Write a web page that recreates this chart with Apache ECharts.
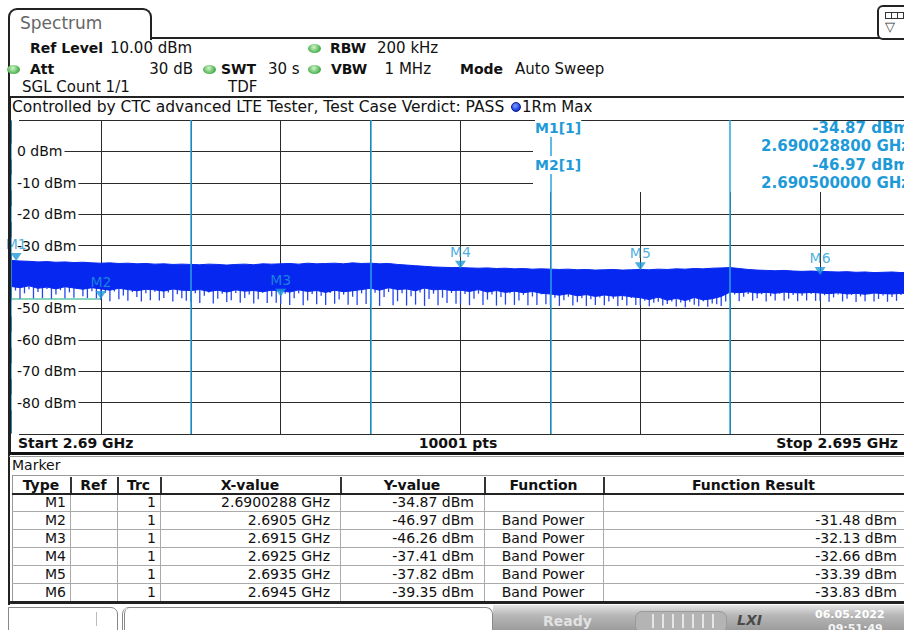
<!DOCTYPE html>
<html>
<head>
<meta charset="utf-8">
<script src="https://cdn.jsdelivr.net/npm/echarts@6/dist/echarts.min.js"></script>
<style>
  html, body { margin: 0; padding: 0; background: #fff; }
  #page { position: relative; width: 904px; height: 630px; overflow: hidden; font-family: 'DejaVu Sans', Verdana, sans-serif; color: #111; }
  .t { position: absolute; white-space: nowrap; line-height: 20px; }
  .ln { position: absolute; }
  .dot { position: absolute; width: 13px; height: 9px; border-radius: 50%; background: radial-gradient(circle at 45% 35%, #d2f5c8, #45ad4a 70%); }
</style>
</head>
<body>
<div id="page">
  <div id="chart" style="position:absolute;left:0;top:97px;width:920px;height:358px;"></div>
</div>
<script>
// sweep settings (MHz)
const sweepStart = 2690;
const sweepStop = 2695;

// trace 1 (max hold): top edge of the noise band, dBm
const traceTop = [
  -34.7, -34.9, -35.0, -35.2, -35.1, -35.3, -35.2, -35.4, -35.3, -35.5,
  -35.6, -35.5, -35.7, -35.6, -35.8, -35.7, -35.9, -35.8, -36.0, -35.9,
  -36.0, -36.1, -35.9, -36.0, -36.2, -36.0, -35.9, -36.1, -35.8, -35.9,
  -35.8, -35.7, -35.9, -35.6, -35.8, -35.7, -35.6, -35.8, -35.5, -35.7,
  -35.6, -35.8, -35.7, -36.0, -36.2, -36.4, -36.6, -36.8, -36.9, -37.0,
  -37.0, -37.1, -37.2, -37.1, -37.3, -37.2, -37.4, -37.3, -37.5, -37.4,
  -37.5, -37.6, -37.5, -37.7, -37.6, -37.8, -37.7, -37.6, -37.8, -37.7,
  -37.6, -37.7, -37.5, -37.6, -37.4, -37.5, -37.3, -37.4, -37.2, -37.1,
  -37.0, -37.3, -37.6, -37.8, -37.9, -38.0, -37.9, -38.1, -38.2, -38.1,
  -38.2, -38.3, -38.4, -38.3, -38.5, -38.4, -38.6, -38.5, -38.4, -38.6,
  -38.5
];

// trace 1: lower edge of the solid part of the band, dBm
const traceBottom = [
  -43.0, -43.4, -42.8, -43.6, -43.2, -43.8, -43.1, -43.5, -43.9, -43.4,
  -43.8, -44.2, -43.6, -44.0, -44.4, -43.9, -44.1, -44.5, -43.8, -44.2,
  -44.3, -44.0, -44.6, -44.2, -44.8, -44.1, -44.5, -44.3, -44.7, -44.2,
  -44.4, -44.8, -44.1, -44.6, -44.3, -44.9, -44.2, -44.7, -44.4, -44.0,
  -43.6, -44.2, -43.4, -44.0, -43.8, -44.4, -43.5, -44.1, -43.9, -44.3,
  -44.2, -44.6, -44.0, -44.8, -44.3, -44.9, -44.5, -45.0, -44.6, -45.2,
  -45.4, -45.8, -45.3, -46.0, -45.6, -46.2, -45.7, -46.1, -45.9, -46.3,
  -46.6, -47.2, -46.4, -47.4, -46.8, -47.5, -46.5, -47.3, -46.9, -46.2,
  -44.8, -45.0, -44.7, -45.1, -44.9, -45.2, -44.8, -45.0, -45.1, -44.9,
  -45.1, -45.3, -45.0, -45.4, -45.2, -45.5, -45.1, -45.3, -45.4, -45.2,
  -45.3
];

// trace 1: tips of the downward noise spikes, dBm
const traceSpikes = [
  -46.6, -44.3, -46.9, -45.2, -43.9, -46.8, -44.8, -46.7, -43.8, -46.9, -45.6, -44.2, -46.8, -44.9, -46.6, -43.7, -46.1, -46.7, -44.5, -46.8,
  -47.3, -45.0, -47.7, -44.6, -47.1, -45.9, -47.6, -44.8, -46.4, -47.8, -45.2, -47.4, -44.7, -47.5, -46.7, -44.9, -47.8, -45.5, -46.8, -47.6,
  -47.9, -45.2, -48.3, -46.0, -44.9, -48.4, -46.9, -45.3, -48.0, -47.4, -45.1, -48.2, -46.7, -45.6, -48.4, -47.1, -45.0, -48.3, -46.2, -48.2,
  -48.6, -45.3, -48.9, -46.8, -45.2, -49.0, -47.5, -45.4, -48.7, -46.0, -48.9, -45.1, -48.5, -47.2, -45.6, -48.8, -46.3, -48.9, -45.2, -48.6,
  -48.9, -45.0, -49.2, -46.4, -44.8, -49.0, -47.7, -45.2, -49.1, -46.1, -48.8, -44.9, -49.2, -47.0, -45.3, -49.0, -46.6, -48.3, -45.1, -48.5,
  -48.7, -45.4, -49.0, -46.9, -45.3, -48.9, -47.2, -45.6, -49.1, -46.4, -48.8, -45.2, -48.9, -47.5, -45.7, -49.0, -46.2, -48.9, -45.5, -48.7,
  -48.9, -46.6, -49.2, -47.4, -46.3, -49.1, -48.0, -46.8, -49.2, -47.1, -48.9, -46.5, -49.0, -47.8, -46.9, -49.2, -47.3, -49.1, -46.7, -48.9,
  -49.0, -47.6, -49.3, -48.2, -47.9, -49.1, -48.6, -47.8, -49.4, -48.1, -49.6, -47.9, -48.8, -49.3, -47.7, -49.5, -48.4, -48.7, -49.2, -47.8,
  -47.4, -45.6, -47.7, -46.3, -45.4, -47.6, -46.8, -45.5, -47.8, -46.1, -47.5, -45.3, -47.6, -46.9, -45.7, -47.7, -46.0, -47.5, -45.4, -47.6,
  -47.6, -45.8, -47.9, -46.5, -45.6, -47.8, -46.9, -45.7, -48.0, -46.2, -47.7, -45.5, -47.8, -47.0, -45.9, -47.9, -46.4, -47.6, -45.7, -47.8,
  -47.4
];

// markers
const markerNames = ['M1', 'M2', 'M3', 'M4', 'M5', 'M6'];
const markerTrace = [1, 1, 1, 1, 1, 1];
const markerFreqMHz = [2690.0288, 2690.5, 2691.5, 2692.5, 2693.5, 2694.5];
const markerDbm = [-34.87, -46.97, -46.26, -37.41, -37.82, -39.35];
const markerFunc = ['', 'Band Power', 'Band Power', 'Band Power', 'Band Power', 'Band Power'];
const bandPowerDbm = [null, -31.48, -32.13, -32.66, -33.39, -33.83];

// blue display lines (MHz)
const displayLinesMHz = [2690, 2691, 2692, 2693, 2694];

const FONT = "'DejaVu Sans', Verdana, sans-serif";
const MK_BLUE = '#1e9ad8';
const TRACE_BLUE = '#0527f0';

const page = document.getElementById('page');

function addText(str, x, y, o = {}) {
  const d = document.createElement('div');
  d.className = 't';
  d.textContent = str;
  d.style.fontSize = (o.size || 14) + 'px';
  if (o.bold) d.style.fontWeight = 'bold';
  if (o.italic) d.style.fontStyle = 'italic';
  if (o.color) d.style.color = o.color;
  d.style.top = (y - 10) + 'px';
  const align = o.align || 'left';
  if (align === 'left') d.style.left = x + 'px';
  else if (align === 'right') d.style.right = (904 - x) + 'px';
  else { d.style.left = x + 'px'; d.style.transform = 'translateX(-50%)'; }
  page.appendChild(d);
  return d;
}

function addBox(x, y, w, h, css) {
  const d = document.createElement('div');
  d.className = 'ln';
  d.style.left = x + 'px';
  d.style.top = y + 'px';
  d.style.width = w + 'px';
  d.style.height = h + 'px';
  Object.assign(d.style, css || {});
  page.appendChild(d);
  return d;
}

function addDot(cx, cy) {
  const d = document.createElement('div');
  d.className = 'dot';
  d.style.left = (cx - 6) + 'px';
  d.style.top = (cy - 4) + 'px';
  page.appendChild(d);
}

// ---- tab + frame ----
addBox(8, 8, 140, 30, { border: '2px solid #222', borderBottom: 'none', borderRadius: '9px 9px 0 0', background: '#fff' });
addText('Spectrum', 20, 23, { size: 17, color: '#666' });
addBox(150, 37, 730, 2, { background: '#222' });
addBox(877, 5, 30, 31, { border: '2px solid #222', borderRadius: '6px', background: '#fff' });
addBox(885, 12, 5, 5, { border: '1px solid #333' });
addBox(891, 12, 5, 5, { border: '1px solid #333' });
addBox(897, 12, 5, 5, { border: '1px solid #333' });
addText('\u25BD', 885, 27, { size: 13, color: '#333' });
addBox(8, 38, 2, 567, { background: '#222' });

// ---- settings ----
addText('Ref Level', 30, 48, { size: 14, bold: true });
addText('10.00 dBm', 110, 48, { size: 15 });
addDot(314, 48);
addText('RBW', 330, 48, { size: 14, bold: true });
addText('200 kHz', 377, 48, { size: 15 });
addDot(13, 69);
addText('Att', 30, 69, { size: 14, bold: true });
addText('30 dB', 193, 69, { size: 15, align: 'right' });
addDot(209, 69);
addText('SWT', 221, 69, { size: 14, bold: true });
addText('30 s', 268, 69, { size: 15 });
addDot(314, 69);
addText('VBW', 331, 69, { size: 14, bold: true });
addText('1 MHz', 431, 69, { size: 15, align: 'right' });
addText('Mode', 460, 69, { size: 14, bold: true });
addText('Auto Sweep', 515, 69, { size: 15 });
addText('SGL Count 1/1', 22, 87, { size: 15 });
addText('TDF', 228, 87, { size: 15 });

// ---- diagram title bar ----
addBox(8, 96, 896, 2, { background: '#222' });
addText('Controlled by CTC advanced LTE Tester, Test Case Verdict: PASS', 12, 107, { size: 15.5 });
addBox(511, 102, 10, 10, { borderRadius: '50%', background: 'radial-gradient(circle at 40% 35%, #7f9cff, #1538e0 70%)', border: '1px solid #0a1a80', boxSizing: 'border-box' });
addText('1Rm Max', 522, 107, { size: 15 });

// ---- diagram footer ----
addBox(9, 97, 2, 358, { background: '#222' });
addText('Start 2.69 GHz', 18, 443, { size: 14, bold: true });
addText('10001 pts', 458, 443, { size: 14, bold: true, align: 'center' });
addText('Stop 2.695 GHz', 898, 443, { size: 14, bold: true, align: 'right' });
addBox(9, 452, 895, 3, { background: '#111', borderRadius: '0 0 0 3px' });
addBox(9, 456, 895, 1, { background: '#999' });

// ---- marker table ----
addText('Marker', 12, 465, { size: 14 });
addBox(12, 475, 892, 1, { background: '#999' });
addBox(12, 475, 1, 127, { background: '#999' });
const colX = [12, 70, 117, 160, 340, 484, 603, 904];
const headers = ['Type', 'Ref', 'Trc', 'X-value', 'Y-value', 'Function', 'Function Result'];
headers.forEach((h, i) => addText(h, (colX[i] + colX[i + 1]) / 2, 485, { size: 14, bold: true, align: 'center' }));
colX.slice(1, 7).forEach(x => {
  addBox(x, 477, 1.5, 16, { background: '#333' });
  addBox(x, 494, 1, 107, { background: '#aaa' });
});
addBox(12, 493, 892, 2, { background: '#222' });
for (let r = 0; r < markerNames.length; r++) {
  const cy = 502 + r * 18;
  if (r > 0) addBox(12, cy - 9, 892, 1, { background: '#aaa' });
  addText(markerNames[r], 66, cy, { size: 14, align: 'right' });
  addText(String(markerTrace[r]), 156, cy, { size: 14, align: 'right' });
  addText(parseFloat((markerFreqMHz[r] / 1000).toFixed(7)) + ' GHz', 330, cy, { size: 14, align: 'right' });
  addText(markerDbm[r].toFixed(2) + ' dBm', 474, cy, { size: 14, align: 'right' });
  if (markerFunc[r]) addText(markerFunc[r], 543, cy, { size: 14, align: 'center' });
  if (bandPowerDbm[r] !== null) addText(bandPowerDbm[r].toFixed(2) + ' dBm', 897, cy, { size: 14, align: 'right' });
}
addBox(8, 601, 896, 3, { background: '#222', borderRadius: '0 0 0 4px' });

// ---- status bar ----
addBox(8, 607, 110, 30, { border: '1px solid #888', borderRadius: '0 7px 0 0', boxSizing: 'border-box', background: '#fff' });
addBox(96, 612, 1, 14, { background: '#bbb' });
addBox(122, 607, 371, 30, { border: '1px solid #888', borderLeft: '3px double #888', borderRadius: '7px 7px 0 0', boxSizing: 'border-box', background: '#fff' });
addBox(493, 605, 411, 25, { background: 'linear-gradient(#e4e4e4, #b8b8b8 40%, #9c9c9c)' });
addText('Ready', 543, 621, { size: 14, bold: true, color: '#e2e2e2' });
addBox(635, 611, 92, 22, { borderRadius: '7px', background: '#b4b4b4', border: '1px solid #9a9a9a', boxSizing: 'border-box' });
for (let k = 0; k < 7; k++) addBox(652 + k * 10, 614, 2, 14, { background: '#e6e6e6' });
addText('LXI', 737, 620, { size: 14, bold: true, italic: true, color: '#4a4a4a' });
addText('06.05.2022', 815, 615, { size: 11, bold: true, color: '#fff' });
addText('09:51:49', 828, 629, { size: 11, bold: true, color: '#f4f4f4' });

// ---- chart ----
const chart = echarts.init(document.getElementById('chart'), null, { renderer: 'svg' });

function sweepX(n, i) {
  return sweepStart + (sweepStop - sweepStart) * i / (n - 1);
}

const infoRows = [
  { label: markerNames[0] + '[1]', dbm: markerDbm[0], f: markerFreqMHz[0], y: 31 },
  { label: markerNames[1] + '[1]', dbm: markerDbm[1], f: markerFreqMHz[1], y: 68 }
];
const infoGraphics = [
  { type: 'rect', z: 1, silent: true, shape: { x: 533, y: 24, width: 390, height: 71 }, style: { fill: '#fff' } }
];
infoRows.forEach(r => {
  infoGraphics.push({ type: 'text', z: 10, x: 535, y: r.y, style: { text: r.label, fill: MK_BLUE, fontSize: 14, fontWeight: 'bold', fontFamily: FONT, verticalAlign: 'middle', backgroundColor: '#fff', padding: [2, 0] } });
  infoGraphics.push({ type: 'text', z: 10, x: 909, y: r.y, style: { text: r.dbm.toFixed(2) + ' dBm', fill: MK_BLUE, fontSize: 15, fontWeight: 'bold', fontFamily: FONT, align: 'right', verticalAlign: 'middle' } });
  infoGraphics.push({ type: 'text', z: 10, x: 910, y: r.y + 18, style: { text: (r.f / 1000).toFixed(9) + ' GHz', fill: MK_BLUE, fontSize: 15, fontWeight: 'bold', fontFamily: FONT, align: 'right', verticalAlign: 'middle' } });
});

const option = {
  animation: false,
  backgroundColor: 'transparent',
  textStyle: { fontFamily: FONT },
  grid: { left: 11, top: 23, width: 899, height: 314, containLabel: false },
  xAxis: {
    type: 'value', min: sweepStart, max: sweepStop, interval: 0.5,
    axisLine: { show: false }, axisTick: { show: false }, axisLabel: { show: false },
    splitLine: { show: true, lineStyle: { color: '#2b2b2b', width: 1 } }
  },
  yAxis: {
    type: 'value', min: -90, max: 10, interval: 10,
    axisLine: { show: false }, axisTick: { show: false },
    axisLabel: {
      inside: true, margin: 0, color: '#111', fontSize: 14, fontFamily: FONT,
      backgroundColor: '#fff', padding: [1, 2, 1, 6],
      formatter: v => (v === 10 || v === -90) ? '' : v + ' dBm'
    },
    splitLine: { show: true, lineStyle: { color: '#2b2b2b', width: 1 } }
  },
  graphic: infoGraphics,
  series: [
    {
      name: 'M2 level', type: 'line', z: 2, silent: true, showSymbol: false,
      data: [[sweepStart, markerDbm[1]], [markerFreqMHz[1], markerDbm[1]]],
      lineStyle: { color: '#5cc9a7', width: 1.5 }
    },
    {
      name: 'Trc1 spikes', type: 'custom', z: 3, silent: true, clip: true,
      data: traceSpikes.map((v, i) => [sweepX(traceSpikes.length, i), v]),
      renderItem(params, api) {
        const f = api.value(0);
        const top = api.coord([f, -42]);
        const tip = api.coord([f, api.value(1)]);
        return { type: 'line', shape: { x1: top[0], y1: top[1], x2: tip[0], y2: tip[1] }, style: { stroke: '#2445f2', lineWidth: 1.3 } };
      }
    },
    {
      name: 'Trc1', type: 'custom', z: 3, silent: true, clip: true,
      data: traceTop.map((v, i) => [sweepX(traceTop.length, i), v]),
      renderItem(params, api) {
        if (params.dataIndex !== 0) return null;
        const pts = [];
        traceTop.forEach((v, i) => pts.push(api.coord([sweepX(traceTop.length, i), v])));
        for (let i = traceBottom.length - 1; i >= 0; i--) {
          pts.push(api.coord([sweepX(traceBottom.length, i), traceBottom[i]]));
        }
        return { type: 'polygon', shape: { points: pts }, style: { fill: TRACE_BLUE, stroke: TRACE_BLUE, lineWidth: 1 } };
      }
    },
    {
      name: 'Display lines', type: 'line', z: 5, silent: true, data: [],
      markLine: {
        silent: true, symbol: 'none', label: { show: false },
        lineStyle: { color: '#2aa3e0', width: 1.5, type: 'solid' },
        data: displayLinesMHz.map(f => ({ xAxis: f }))
      }
    },
    {
      name: 'Markers', type: 'scatter', z: 6, silent: true,
      symbol: 'path://M0,0 L10,0 L5,8 Z', symbolSize: [11, 8], symbolOffset: [0, -4], symbolKeepAspect: false,
      itemStyle: { color: MK_BLUE },
      label: { show: true, position: 'top', distance: 2, formatter: '{b}', color: MK_BLUE, fontSize: 14, fontFamily: FONT },
      data: markerNames.map((n, i) => ({ name: n, value: [markerFreqMHz[i], markerDbm[i]] }))
    }
  ]
};
chart.setOption(option);
</script>
</body>
</html>
